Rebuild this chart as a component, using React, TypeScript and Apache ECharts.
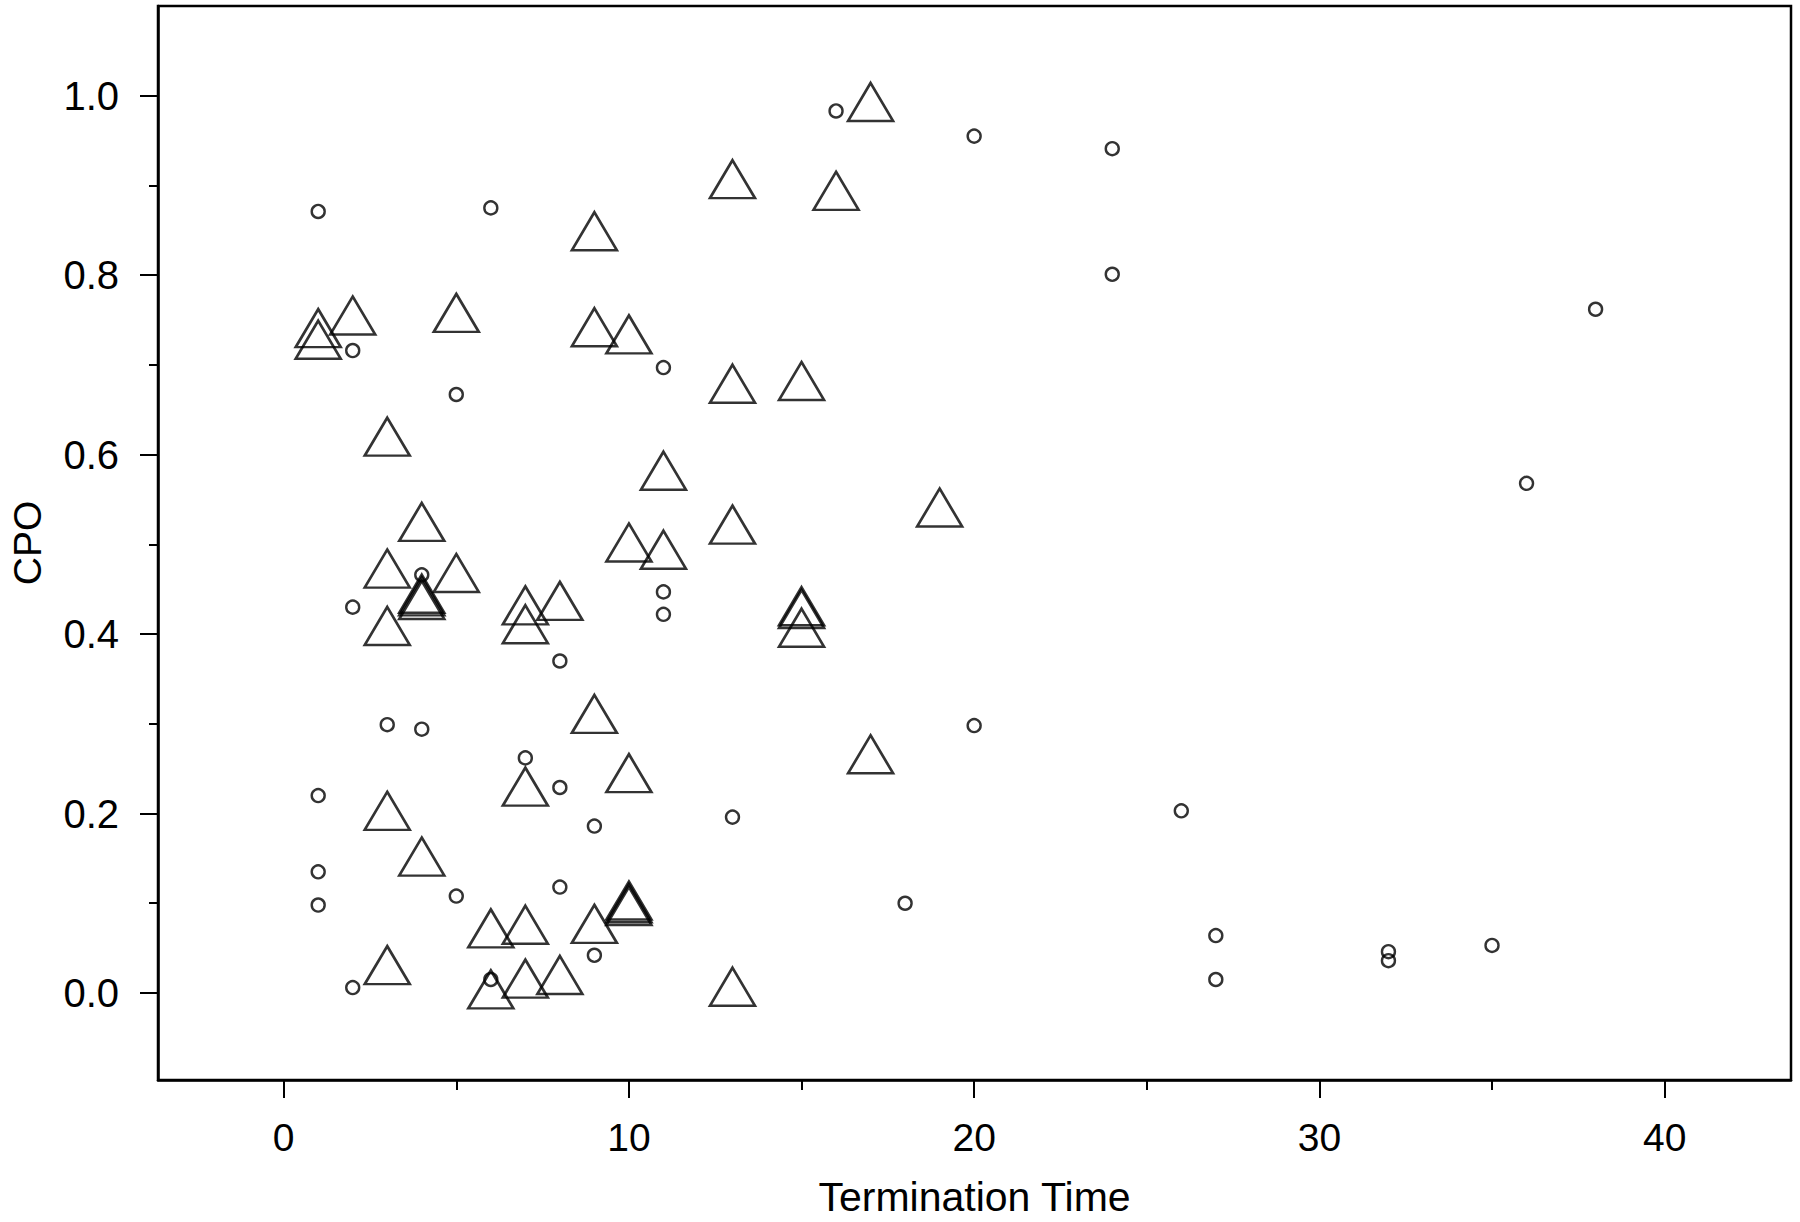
import React, { useEffect, useRef } from 'react';
import * as echarts from 'echarts';

// Circles (group 1)
const circleX = [1, 6, 2, 5, 4, 2, 8, 3, 4, 7, 8, 9, 1, 1, 1, 5, 8, 9, 2, 6, 16, 20, 11, 11, 11, 20, 13, 18, 24, 24, 38, 36, 26, 27, 27, 32, 32, 35];
const circleY = [0.871, 0.875, 0.716, 0.667, 0.466, 0.430, 0.370, 0.299, 0.294, 0.262, 0.229, 0.186, 0.220, 0.135, 0.098, 0.108, 0.118, 0.042, 0.006, 0.015, 0.983, 0.955, 0.697, 0.447, 0.422, 0.298, 0.196, 0.100, 0.941, 0.801, 0.762, 0.568, 0.203, 0.064, 0.015, 0.046, 0.036, 0.053];

// Triangles (group 2)
const triangleX = [17, 13, 16, 9, 1, 1, 2, 5, 9, 10, 13, 15, 3, 11, 19, 4, 13, 10, 11, 3, 5, 4, 4, 4, 8, 7, 7, 3, 15, 15, 15, 9, 17, 10, 7, 3, 4, 10, 10, 10, 6, 7, 9, 3, 8, 7, 13, 6];
const triangleY = [0.993, 0.907, 0.894, 0.849, 0.741, 0.728, 0.755, 0.758, 0.742, 0.734, 0.679, 0.682, 0.620, 0.582, 0.541, 0.525, 0.522, 0.502, 0.494, 0.473, 0.468, 0.445, 0.442, 0.438, 0.437, 0.432, 0.411, 0.409, 0.431, 0.428, 0.407, 0.311, 0.266, 0.245, 0.230, 0.203, 0.152, 0.103, 0.100, 0.097, 0.072, 0.076, 0.077, 0.031, 0.020, 0.016, 0.007, 0.004];

// Axis ticks
const xTickLabels = [0, 10, 20, 30, 40];
const xMinorTicks = [5, 15, 25, 35];
const yTickLabels = [0, 0.2, 0.4, 0.6, 0.8, 1.0];
const yMinorTicks = [0.1, 0.3, 0.5, 0.7, 0.9];

const xTitle = 'Termination Time';
const yTitle = 'CPO';

export default function App() {
  const ref = useRef<HTMLDivElement>(null);

  useEffect(() => {
    if (!ref.current) return;
    const chart = echarts.init(ref.current, null, { renderer: 'svg' });
    const font = "'Liberation Sans', Arial, Helvetica, sans-serif";
    const xRange = { min: -3.64, max: 43.66 };
    const yRange = { min: -0.097, max: 1.1 };
    const black = '#000';

    chart.setOption({
      animation: false,
      backgroundColor: '#fff',
      textStyle: { fontFamily: font, color: black },
      grid: {
        left: 155,
        top: 6,
        width: 1636,
        height: 1075,
        show: true,
        borderColor: black,
        borderWidth: 2.5,
        backgroundColor: 'transparent',
        containLabel: false,
      },
      xAxis: [
        {
          type: 'value',
          ...xRange,
          position: 'bottom',
          name: xTitle,
          nameLocation: 'middle',
          nameGap: 96,
          nameTextStyle: { fontSize: 41, color: black, fontFamily: font },
          axisLine: { show: true, onZero: false, lineStyle: { color: black, width: 2.5 } },
          axisTick: { show: true, length: 18, customValues: xTickLabels, lineStyle: { color: black, width: 2 } },
          axisLabel: { show: true, customValues: xTickLabels, margin: 38, fontSize: 39, color: black, fontFamily: font },
          splitLine: { show: false },
        },
        {
          type: 'value',
          ...xRange,
          position: 'bottom',
          axisLine: { show: false, onZero: false },
          axisTick: { show: true, length: 10, customValues: xMinorTicks, lineStyle: { color: black, width: 2 } },
          axisLabel: { show: false },
          splitLine: { show: false },
        },
      ],
      yAxis: [
        {
          type: 'value',
          ...yRange,
          position: 'left',
          name: yTitle,
          nameLocation: 'middle',
          nameGap: 111,
          nameTextStyle: { fontSize: 39, color: black, fontFamily: font },
          axisLine: { show: true, onZero: false, lineStyle: { color: black, width: 2.5 } },
          axisTick: { show: true, length: 18, customValues: yTickLabels, lineStyle: { color: black, width: 2 } },
          axisLabel: {
            show: true,
            customValues: yTickLabels,
            margin: 39,
            fontSize: 40,
            color: black,
            fontFamily: font,
            padding: [8, 0, 0, 0],
            formatter: (v: number) => v.toFixed(1),
          },
          splitLine: { show: false },
        },
        {
          type: 'value',
          ...yRange,
          position: 'left',
          axisLine: { show: false, onZero: false },
          axisTick: { show: true, length: 9, customValues: yMinorTicks, lineStyle: { color: black, width: 2 } },
          axisLabel: { show: false },
          splitLine: { show: false },
        },
      ],
      series: [
        {
          type: 'scatter',
          name: 'circles',
          xAxisIndex: 0,
          yAxisIndex: 0,
          silent: true,
          symbol: 'circle',
          symbolSize: 13,
          itemStyle: { color: 'rgba(0,0,0,0)', borderColor: black, borderWidth: 2.4 },
          data: circleX.map((x, i) => [x, circleY[i]]),
        },
        {
          type: 'scatter',
          name: 'triangles',
          xAxisIndex: 0,
          yAxisIndex: 0,
          silent: true,
          symbol: 'triangle',
          symbolSize: [45, 38],
          itemStyle: {
            color: 'rgba(0,0,0,0)',
            borderColor: black,
            borderWidth: 2.6,
            borderJoin: 'miter',
            borderMiterLimit: 10,
          },
          data: triangleX.map((x, i) => [x, triangleY[i]]),
        },
      ],
    });

    return () => {
      chart.dispose();
    };
  }, []);

  return (
    <div
      ref={ref}
      style={{ position: 'fixed', left: 0, top: 0, width: 1800, height: 1222, background: '#fff' }}
    />
  );
}
